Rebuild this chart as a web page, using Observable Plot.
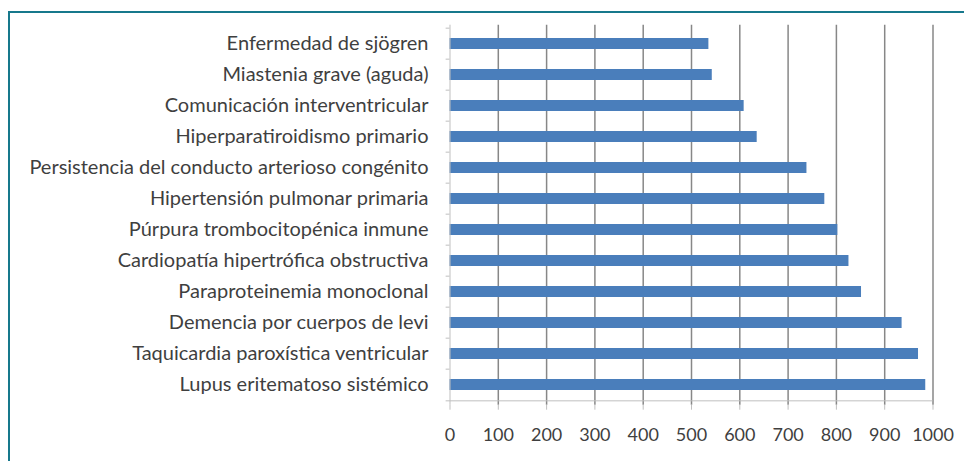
<!DOCTYPE html>
<html>
<head>
<meta charset="utf-8">
<script src="https://cdn.jsdelivr.net/npm/d3@7"></script>
<script src="https://cdn.jsdelivr.net/npm/@observablehq/plot@0.6"></script>
<style>
  html, body { margin: 0; padding: 0; background: #ffffff; }
  #wrap { position: relative; width: 964px; height: 461px; overflow: hidden; background: #fff; }
  #frame { position: absolute; left: 8px; top: 11px; right: -10px; bottom: -10px;
           border-left: 2.5px solid #17788c; border-top: 2.5px solid #17788c; pointer-events: none; }
  #chart { position: absolute; left: 0; top: 0; }
</style>
</head>
<body>
<div id="wrap"><div id="chart"></div><div id="frame"></div></div>
<script>
const categories = [
  "Enfermedad de sjögren",
  "Miastenia grave (aguda)",
  "Comunicación interventricular",
  "Hiperparatiroidismo primario",
  "Persistencia del conducto arterioso congénito",
  "Hipertensión pulmonar primaria",
  "Púrpura trombocitopénica inmune",
  "Cardiopatía hipertrófica obstructiva",
  "Paraproteinemia monoclonal",
  "Demencia por cuerpos de levi",
  "Taquicardia paroxística ventricular",
  "Lupus eritematoso sistémico"
];
const values = [536, 543, 609, 636, 739, 776, 803, 826, 852, 936, 970, 985];
const xTicks = [0, 100, 200, 300, 400, 500, 600, 700, 800, 900, 1000];

const data = categories.map((name, i) => ({name, value: values[i]}));

const marginTop = 24.7, marginBottom = 56.3;
const H = 461;
const step = (H - marginTop - marginBottom) / categories.length;
const axisGray = "#bfbfbf";

const chart = Plot.plot({
  width: 964,
  height: H,
  marginLeft: 449.5,
  marginRight: 31.5,
  marginTop,
  marginBottom,
  x: {domain: [0, 1000]},
  y: {domain: categories, paddingInner: 0.63, paddingOuter: 0.315},
  style: {fontFamily: "Lato, 'Open Sans', sans-serif", fontSize: "18px", color: "#3f3f3f", background: "transparent"},
  marks: [
    Plot.ruleX(xTicks.slice(1), {stroke: "#878787", strokeWidth: 1.5}),
    Plot.barX(data, {x: "value", y: "name", fill: "#4a7ebb"}),
    Plot.ruleX([0], {stroke: axisGray}),
    Plot.ruleY(categories, {x1: -8, x2: 0, dy: -step / 2, stroke: axisGray}),
    Plot.ruleY([categories[categories.length - 1]], {x1: -8, x2: 1000, dy: step / 2, stroke: axisGray}),
    Plot.axisX(xTicks, {tickSize: 5, tickPadding: 18, stroke: axisGray, fill: "#3f3f3f", fontSize: 18, tickFormat: d3.format("d"), label: null}),
    Plot.axisY({tickSize: 0, tickPadding: 21.5, fill: "#3f3f3f", fontSize: 20, label: null})
  ]
});
document.getElementById("chart").appendChild(chart);
</script>
</body>
</html>
